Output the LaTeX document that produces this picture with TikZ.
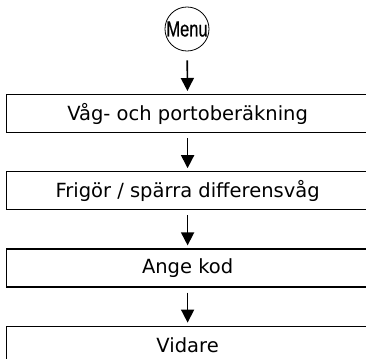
\documentclass[tikz,border=0pt]{standalone}
\usepackage{fontspec}
\setmainfont{DejaVu Sans}
\newfontfamily\menufont[FakeStretch=0.75, FakeBold=0.6]{Liberation Sans}
\usetikzlibrary{arrows.meta, positioning}

\begin{document}
\begin{tikzpicture}[x=1pt, y=-1pt, node distance=38pt,
    stepbox/.style={draw, line width=1.2pt, minimum width=362pt, minimum height=38pt,
      inner sep=0pt, font=\fontsize{19.5}{22}\selectfont},
    flowarrow/.style={-{Triangle[length=13pt, width=13pt]}, line width=1.6pt,
      shorten <=5pt, shorten >=3pt}]
  \useasboundingbox (0,0) rectangle (366,358);
  \clip (0,0) rectangle (366,358);
  % Menu key
  \node[circle, draw, line width=0.8pt, minimum size=44pt, inner sep=0pt,
    font=\menufont\fontsize{22}{22}\selectfont] (menu) at (187,29) {Menu};
  % Steps
  \node[stepbox, anchor=north west] (weigh) at (6,94) {Våg- och portoberäkning};
  \node[stepbox, below=of weigh] (release) {Frigör / spärra differensvåg};
  \node[stepbox, below=of release] (code) {Ange kod};
  \node[stepbox, below=of code] (next) {Vidare};
  % Arrows
  \draw[flowarrow, shorten <=9pt] (menu) -- (weigh);
  \foreach \a/\b in {weigh/release, release/code, code/next}{
    \draw[flowarrow] (\a) -- (\b);
  }
\end{tikzpicture}
\end{document}
